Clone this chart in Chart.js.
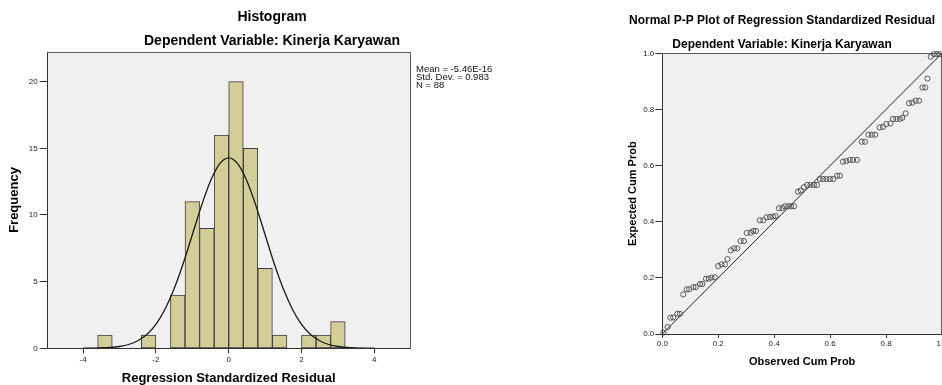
<!DOCTYPE html>
<html><head><meta charset="utf-8">
<script src="https://cdn.jsdelivr.net/npm/chart.js@4.4.0/dist/chart.umd.min.js"></script>
<style>
html,body{margin:0;padding:0;background:#fff;overflow:hidden;width:942px;height:385px;position:relative}
#w1{position:absolute;left:0;top:0;width:544px;height:385px}
#w2{position:absolute;left:622px;top:0;width:340px;height:385px}
#stats{position:absolute;left:416px;top:65px;font-family:"Liberation Sans",Arial,sans-serif;font-size:9.5px;line-height:8px;color:#111;white-space:nowrap}
</style></head><body>
<div id="w1"><canvas id="c1" width="544" height="385"></canvas></div>
<div id="w2"><canvas id="c2" width="340" height="385"></canvas></div>
<div id="stats">Mean = -5.46E-16<br>Std. Dev. = 0.983<br>N = 88</div>
<script>
// ---- Histogram data ----
const binCenters  = [-3.4, -2.2, -1.4, -1.0, -0.6, -0.2, 0.2, 0.6, 1.0, 1.4, 2.2, 2.6, 3.0];
const frequencies = [1, 1, 4, 11, 9, 16, 20, 15, 6, 1, 1, 1, 2];
// normal curve
const curveX = [-4,-3.75,-3.5,-3.25,-3,-2.75,-2.5,-2.25,-2,-1.75,-1.5,-1.25,-1,-0.75,-0.5,-0.25,0,
                0.25,0.5,0.75,1,1.25,1.5,1.75,2,2.25,2.5,2.75,3,3.25,3.5,3.75,4];
const curveY = [0.004,0.010,0.025,0.060,0.136,0.285,0.563,1.04,1.80,2.93,4.46,6.36,8.52,10.68,12.55,13.83,14.29,
                13.83,12.55,10.68,8.52,6.36,4.46,2.93,1.80,1.04,0.563,0.285,0.136,0.060,0.025,0.010,0.004];
const histXTicks = [-4, -2, 0, 2, 4];
const histYTicks = [0, 5, 10, 15, 20];

// ---- P-P plot data ----
const observedCumProb = [0.004,0.019,0.029,0.039,0.054,0.063,0.075,0.087,0.096,0.111,0.120,0.135,0.143,0.156,0.166,0.176,0.188,
  0.200,0.212,0.224,0.233,0.245,0.257,0.268,0.280,0.292,0.302,0.316,0.325,0.335,0.349,0.361,0.373,0.385,0.396,0.405,
  0.417,0.429,0.438,0.450,0.460,0.471,0.485,0.495,0.506,0.518,0.530,0.542,0.553,
  0.563,0.575,0.587,0.599,0.611,0.625,0.635,0.646,0.658,0.670,0.682,0.696,0.713,0.725,0.737,0.749,0.761,0.777,0.789,
  0.801,0.816,0.825,0.837,0.849,0.858,0.870,0.882,0.894,0.906,0.918,0.930,0.940,0.948,0.960,0.971,0.982,0.992];
const expectedCumProb = [0.005,0.025,0.058,0.059,0.072,0.072,0.141,0.159,0.159,0.167,0.167,0.178,0.178,0.197,0.197,0.201,0.202,
  0.242,0.248,0.248,0.267,0.298,0.305,0.305,0.331,0.331,0.360,0.361,0.367,0.367,0.405,0.405,0.416,0.417,0.418,0.420,
  0.448,0.449,0.455,0.455,0.455,0.455,0.507,0.511,0.523,0.531,0.531,0.531,0.531,
  0.552,0.552,0.552,0.552,0.552,0.564,0.564,0.614,0.616,0.620,0.620,0.620,0.685,0.685,0.710,0.710,0.710,0.736,0.738,
  0.748,0.750,0.766,0.766,0.766,0.770,0.786,0.822,0.824,0.831,0.831,0.878,0.878,0.910,0.988,0.997,0.997,0.997];
const diagonalX = [0, 1];
const diagonalY = [0, 1];
const ppTicks = [0, 0.2, 0.4, 0.6, 0.8, 1.0];

const FAM = "'Liberation Sans', Arial, Helvetica, sans-serif";

const framePlugin = {
  id: 'frame',
  beforeDraw(chart) {
    const a = chart.chartArea, ctx = chart.ctx;
    ctx.save();
    ctx.fillStyle = '#f0f0f0';
    ctx.fillRect(a.left, a.top, a.right - a.left, a.bottom - a.top);
    ctx.restore();
  },
  afterDraw(chart) {
    const a = chart.chartArea, ctx = chart.ctx;
    ctx.save();
    ctx.strokeStyle = '#5a5a5a';
    ctx.lineWidth = 1;
    const l = Math.round(a.left) + 0.5, t = Math.round(a.top) + 0.5, r = Math.round(a.right) - 0.5, b = Math.round(a.bottom) + 0.5;
    ctx.beginPath();
    ctx.moveTo(l, b); ctx.lineTo(l, t); ctx.lineTo(r, t); ctx.lineTo(r, b); ctx.lineTo(l, b);
    ctx.stroke();
    ctx.strokeStyle = '#333';
    ctx.beginPath();
    ctx.moveTo(l, t); ctx.lineTo(l, b); ctx.lineTo(r, b);
    ctx.stroke();
    ctx.restore();
  }
};

Chart.defaults.font.family = FAM;

// ---------------- Histogram ----------------
new Chart(document.getElementById('c1'), {
  type: 'bar',
  data: {
    datasets: [
      {
        type: 'line',
        data: curveX.map((x, i) => ({x: x, y: curveY[i]})),
        borderColor: '#1a1a1a', borderWidth: 1.3, pointRadius: 0,
        cubicInterpolationMode: 'monotone', order: 0
      },
      {
        type: 'bar',
        data: binCenters.map((x, i) => ({x: x, y: frequencies[i]})),
        backgroundColor: '#d3ce98', borderColor: '#3c3c3c', borderWidth: 1,
        borderSkipped: false, barPercentage: 1, categoryPercentage: 1, order: 1
      }
    ]
  },
  options: {
    responsive: false, animation: false, devicePixelRatio: 1,
    layout: {padding: {left: 0, right: 0, top: 0, bottom: 0}},
    plugins: {
      legend: {display: false}, tooltip: {enabled: false},
      title: {display: true, text: 'Histogram', color: '#000',
        font: {size: 14, weight: 'bold', lineHeight: 1.2}, padding: {top: 9.1, bottom: 0}},
      subtitle: {display: true, text: 'Dependent Variable: Kinerja Karyawan', color: '#000',
        font: {size: 14, weight: 'bold', lineHeight: 1.2}, padding: {top: 7.2, bottom: 1.8}}
    },
    scales: {
      x: {
        type: 'linear', min: -5, max: 5, offset: false,
        afterBuildTicks: s => { s.ticks = histXTicks.map(v => ({value: v})); },
        afterFit: s => { s.height = 36.7; },
        grid: {drawOnChartArea: false, drawTicks: true, tickLength: 5, color: '#333', offset: false},
        border: {display: false},
        ticks: {color: '#222', font: {size: 8}, padding: 2, maxRotation: 0, autoSkip: false},
        title: {display: true, text: 'Regression Standardized Residual', color: '#000',
          font: {size: 13, weight: 'bold', lineHeight: 1}, padding: {top: 0, bottom: 0.2}}
      },
      y: {
        type: 'linear', min: 0, max: 22.25,
        afterBuildTicks: s => { s.ticks = histYTicks.map(v => ({value: v})); },
        afterFit: s => { s.width = 46.7; },
        grid: {drawOnChartArea: false, drawTicks: true, tickLength: 7, color: '#333'},
        border: {display: false},
        ticks: {color: '#222', font: {size: 8}, padding: 2},
        title: {display: true, text: 'Frequency', color: '#000',
          font: {size: 13, weight: 'bold', lineHeight: 1}, padding: {top: 7.5, bottom: 0}}
      },
      // empty right-side axis only reserving room for the statistics text
      yRight: {
        type: 'linear', position: 'right', display: true, min: 0, max: 22.25,
        afterFit: s => { s.width = 133.3; },
        grid: {display: false}, border: {display: false}, ticks: {display: false}
      }
    }
  },
  plugins: [framePlugin]
});

// ---------------- P-P plot ----------------
new Chart(document.getElementById('c2'), {
  type: 'scatter',
  data: {
    datasets: [
      {
        type: 'line',
        data: diagonalX.map((x, i) => ({x: x, y: diagonalY[i]})),
        borderColor: '#222', borderWidth: 1, pointRadius: 0, order: 1
      },
      {
        type: 'scatter',
        data: observedCumProb.map((x, i) => ({x: x, y: expectedCumProb[i]})),
        pointStyle: 'circle', pointRadius: 2.6, borderColor: '#4a4a4a', borderWidth: 0.9,
        backgroundColor: 'rgba(0,0,0,0)', clip: false, order: 0
      }
    ]
  },
  options: {
    responsive: false, animation: false, devicePixelRatio: 1,
    layout: {padding: {left: 0, right: 20, top: 0, bottom: 0}},
    plugins: {
      legend: {display: false}, tooltip: {enabled: false},
      title: {display: true, text: 'Normal P-P Plot of Regression Standardized Residual', color: '#000',
        font: {size: 12, weight: 'bold', lineHeight: 1.2}, padding: {top: 13.6, bottom: 0}},
      subtitle: {display: true, text: 'Dependent Variable: Kinerja Karyawan', color: '#000',
        font: {size: 12, weight: 'bold', lineHeight: 1.2}, padding: {top: 9.6, bottom: 1.3}}
    },
    scales: {
      x: {
        type: 'linear', min: 0, max: 1,
        afterBuildTicks: s => { s.ticks = ppTicks.map(v => ({value: v})); },
        afterFit: s => { s.height = 51; },
        grid: {drawOnChartArea: false, drawTicks: true, tickLength: 4, color: '#333'},
        border: {display: false},
        ticks: {color: '#222', font: {size: 8}, padding: 1, maxRotation: 0, autoSkip: false,
          callback: v => Number(v).toFixed(1)},
        title: {display: true, text: 'Observed Cum Prob', color: '#000',
          font: {size: 11, weight: 'bold', lineHeight: 1.2}, padding: {top: 0, bottom: 16.7}}
      },
      y: {
        type: 'linear', min: 0, max: 1,
        afterBuildTicks: s => { s.ticks = ppTicks.map(v => ({value: v})); },
        afterFit: s => { s.width = 40.3; },
        grid: {drawOnChartArea: false, drawTicks: true, tickLength: 7, color: '#333'},
        border: {display: false},
        ticks: {color: '#222', font: {size: 8}, padding: 1, callback: v => Number(v).toFixed(1)},
        title: {display: true, text: 'Expected Cum Prob', color: '#000',
          font: {size: 11, weight: 'bold', lineHeight: 1.2}, padding: {top: 4.4, bottom: 0}}
      }
    }
  },
  plugins: [framePlugin]
});
</script>
</body></html>
